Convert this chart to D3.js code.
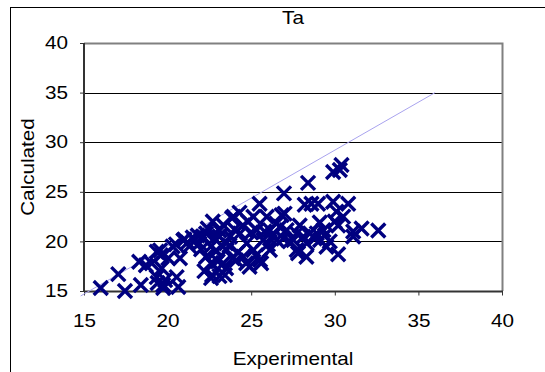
<!DOCTYPE html>
<html><head><meta charset="utf-8">
<script src="https://cdn.jsdelivr.net/npm/d3@7/dist/d3.min.js"></script>
<style>
html,body{margin:0;padding:0;background:#fff;}
svg{display:block;font-family:"Liberation Sans",Arial,sans-serif;}
</style></head>
<body>
<script>
const title = "Ta";
const xLabel = "Experimental";
const yLabel = "Calculated";
const xTicks = [15, 20, 25, 30, 35, 40];
const yTicks = [15, 20, 25, 30, 35, 40];
const refLineX = [14.8, 36.0];
const refLineY = [14.5, 35.0];
const expValues = [
16.0,17.45,17.05,18.4,18.3,18.7,19.05,19.35,19.55,19.65,19.74,19.74,19.85,20.04,20.3,20.54,20.64,20.74,20.94,21.3,19.4,19.6,19.35,
21.6,21.9,22.1,22.3,22.6,22.3,22.6,22.6,23.1,23.1,23.5,23.5,23.1,22.8,22.0,21.8,22.4,22.9,23.0,22.2,21.5,22.7,22.7,22.66,22.9,
23.93,23.33,23.73,23.53,23.33,23.43,24.33,24.73,24.53,25.13,25.53,25.13,25.33,25.72,25.93,26.12,26.12,26.82,26.72,27.12,27.72,28.12,28.52,28.92,29.32,27.52,28.32,29.12,29.5,27.72,26.52,26.92,24.1,24.7,24.9,23.85,24.3,
25.6,25.3,26.5,26.3,27.3,24.0,23.7,24.5,25.0,25.8,26.0,24.2,23.9,24.8,27.9,28.8,29.4,29.7,29.1,
30.2,31.1,31.6,32.6,31.1,30.0,30.2,30.5,30.1,30.8,29.9,29.0,28.6,28.2,27.0,28.4,29.9,30.3,30.4,26.96,25.5,28.3,27.8,21.2,20.5,21.0
];
const calcValues = [
15.3,15.0,16.7,15.6,17.95,17.6,17.8,16.4,19.1,17.3,15.3,15.6,16.1,18.3,19.5,16.4,15.4,18.3,20.1,19.5,15.8,18.6,18.96,
20.1,19.8,20.5,20.8,19.5,18.45,17.8,16.3,21.1,16.5,17.3,19.8,20.5,20.3,19.2,20.6,21.3,19.0,18.0,17.0,20.4,22.0,17.7,16.6,19.1,
22.48,21.65,20.47,19.13,17.79,16.6,20.81,19.8,18.45,19.13,18.12,22.48,21.14,20.14,22.48,19.13,21.14,22.65,21.47,21.14,20.81,20.47,20.81,20.81,21.14,20.14,19.8,20.14,19.46,19.13,20.14,20.3,18.1,17.8,17.45,22.35,22.9,
17.8,18.6,21.8,20.6,20.0,21.2,19.6,21.6,20.9,21.0,19.7,18.9,18.3,22.0,21.6,20.3,20.6,20.0,21.9,
18.7,21.0,21.3,21.1,20.5,22.0,21.6,22.5,23.0,23.8,24.0,23.8,23.8,23.7,22.8,25.9,27.0,27.2,27.7,24.84,23.8,18.45,18.8,19.9,19.7,20.2
];

const W = 545, H = 372;
const plot = {left: 84, top: 43, right: 502, bottom: 291};
const FS = "18px", SX = 1.15;
const svg = d3.select("body").append("svg").attr("width", W).attr("height", H);

svg.append("rect").attr("x", 10.5).attr("y", 7.5).attr("width", 600).attr("height", 400)
  .attr("fill", "none").attr("stroke", "#000").attr("stroke-width", 1);

const x = d3.scaleLinear().domain([15, 40]).range([plot.left, plot.right]);
const y = d3.scaleLinear().domain([15, 40]).range([plot.bottom, plot.top]);

svg.append("g").selectAll("line").data(yTicks.filter(t => t > 15 && t < 40)).join("line")
  .attr("x1", plot.left).attr("x2", plot.right)
  .attr("y1", d => Math.round(y(d)) + 0.5).attr("y2", d => Math.round(y(d)) + 0.5)
  .attr("stroke", "#000").attr("stroke-width", 1);

svg.append("path")
  .attr("d", `M${plot.left},${plot.top + 0.5}H${plot.right + 0.5}V${plot.bottom}`)
  .attr("fill", "none").attr("stroke", "#808080").attr("stroke-width", 2);

const xAxis = d3.axisBottom(x).tickValues(xTicks).tickSize(4).tickPadding(19).tickFormat(d3.format("d"));
const yAxis = d3.axisLeft(y).tickValues(yTicks).tickSize(4).tickPadding(12).tickFormat(d3.format("d"));
const gx = svg.append("g").attr("transform", `translate(0,${plot.bottom + 0.5})`).call(xAxis);
const gy = svg.append("g").attr("transform", `translate(${plot.left},0)`).call(yAxis);
[gx, gy].forEach(g => {
  g.select(".domain").attr("stroke", "#333").attr("stroke-width", 2);
  g.selectAll(".tick line").attr("stroke", "#333");
  g.selectAll(".tick text").attr("fill", "#000").style("font-size", FS)
    .style("font-family", "'Liberation Sans', Arial, sans-serif");
});
gx.select(".domain").attr("d", `M${plot.left},0H${plot.right + 1}`);
gy.select(".domain").attr("d", `M0,${plot.top}V${plot.bottom + 1}`);
gx.selectAll(".tick text").attr("transform", `scale(${SX},1)`);
gy.selectAll(".tick text").each(function() {
  const t = d3.select(this);
  const xx = +t.attr("x");
  t.attr("x", 0).attr("transform", `translate(${xx},0) scale(${SX},1)`);
});

svg.append("line")
  .attr("x1", x(refLineX[0])).attr("y1", y(refLineY[0]))
  .attr("x2", x(refLineX[1])).attr("y2", y(refLineY[1]))
  .attr("stroke", "#a9a3ee").attr("stroke-width", 1);

const pts = expValues.map((v, i) => [v, calcValues[i]]);
const s = 7;
svg.append("g").selectAll("path").data(pts).join("path")
  .attr("transform", d => `translate(${x(d[0])},${y(d[1])})`)
  .attr("d", `M${-s},${-s}L${s},${s}M${-s},${s}L${s},${-s}`)
  .attr("stroke", "#000080").attr("stroke-width", 3.4).attr("fill", "none");

const cx = (plot.left + plot.right) / 2;
svg.append("text").attr("transform", `translate(${cx},24) scale(${SX},1)`)
  .attr("text-anchor", "middle").style("font-size", FS).text(title);
svg.append("text").attr("transform", `translate(${cx},365) scale(${SX},1)`)
  .attr("text-anchor", "middle").style("font-size", FS).text(xLabel);
svg.append("text").attr("transform", `translate(34,${(plot.top + plot.bottom) / 2}) rotate(-90) scale(${SX},1)`)
  .attr("text-anchor", "middle").style("font-size", FS).text(yLabel);
</script>
</body></html>
